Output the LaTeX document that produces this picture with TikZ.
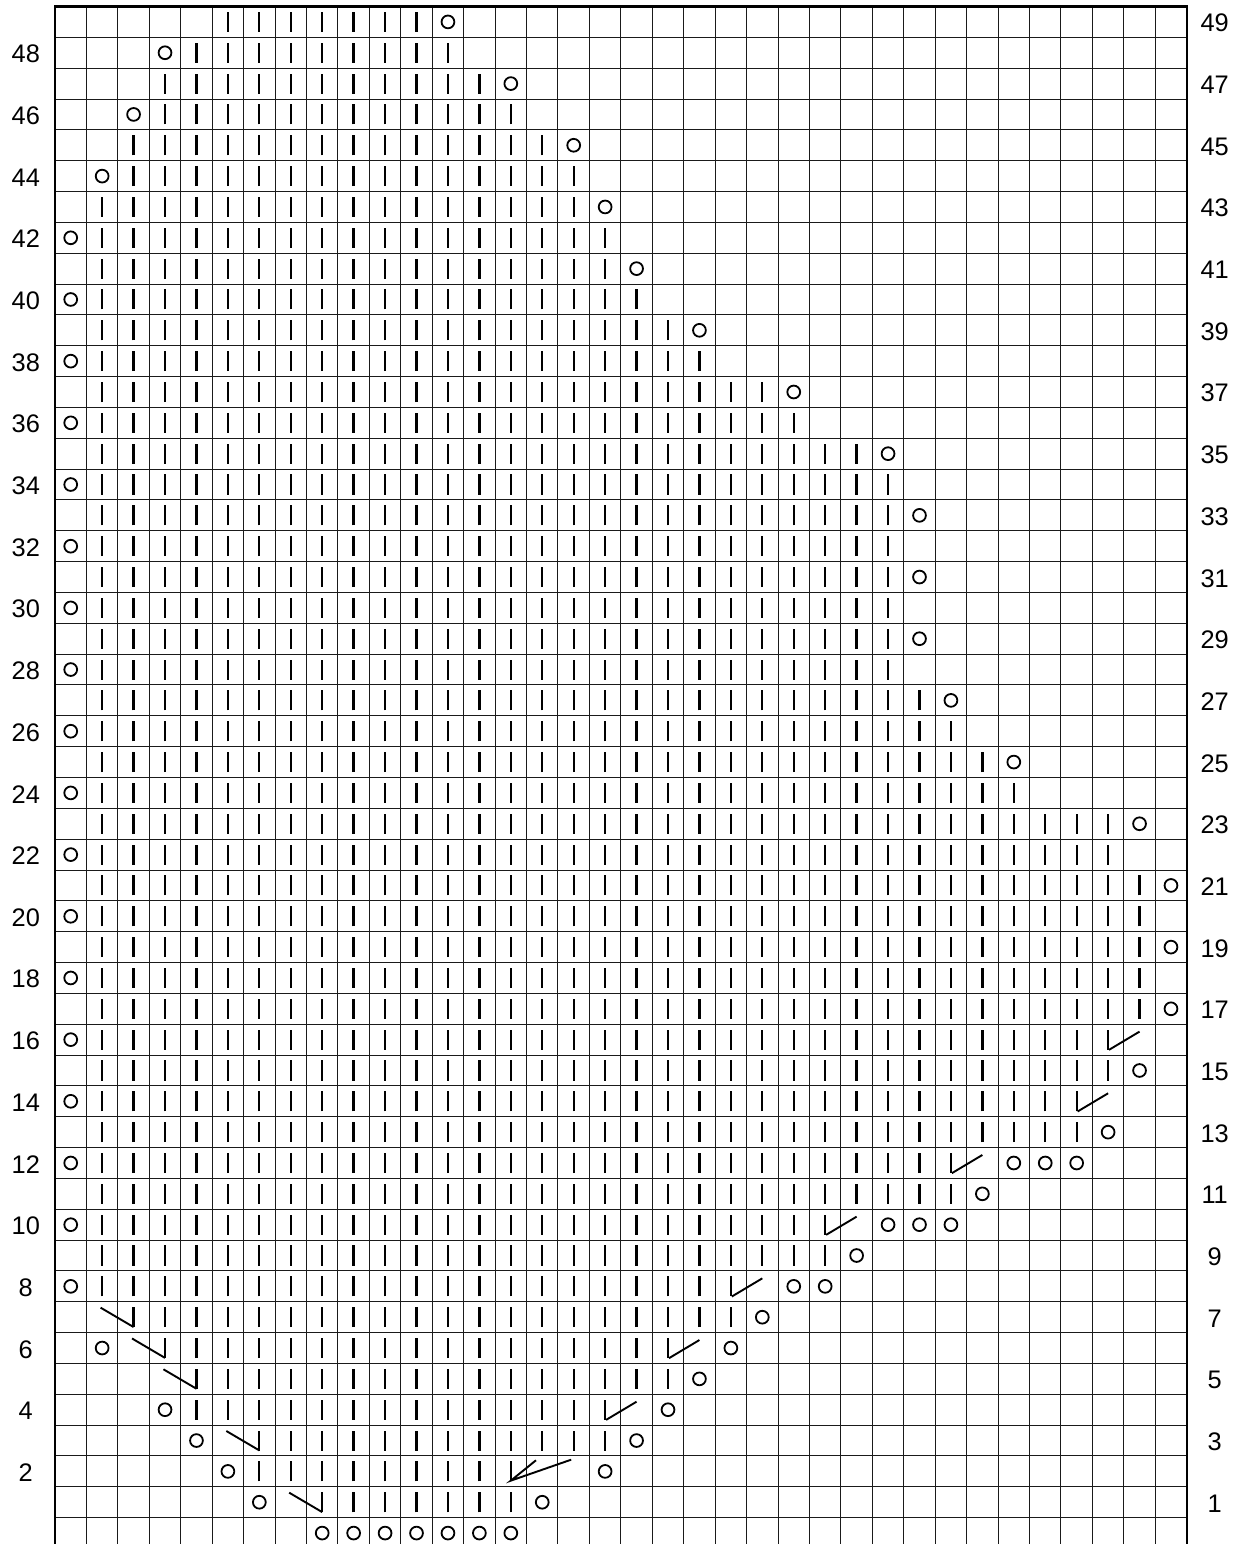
\documentclass[tikz,border=0pt]{standalone}
\usepackage{fontspec}
\setmainfont{Liberation Sans}
\definecolor{cgrid}{HTML}{1A1A1A}
\tikzset{
  every picture/.style={font=\fontsize{12.7}{14}\selectfont},
  gridline/.style={draw=cgrid, line width=0.5pt},
  frame/.style={draw=black, line width=1.2pt},
  knit/.style={draw=black, line width=1.15pt},
  yo/.style={draw=black, line width=0.9pt},
  dec/.style={draw=black, line width=0.95pt},
  rowno/.style={inner sep=0pt, anchor=center},
}
\begin{document}
\begin{tikzpicture}[x=15.718pt, y=15.42pt]
  \useasboundingbox (-1.7496,0.146) rectangle (37.664,50.211);
  % grid
  \foreach \i in {1,...,35} \draw[gridline] (\i,0) -- (\i,50);
  \foreach \j in {1,...,49} \draw[gridline] (0,\j) -- (36,\j);
  \draw[frame] (0,0) rectangle (36,50);
  % row numbers
  \foreach \r in {2,4,...,48} \node[rowno] (left\r) at (-0.93,\r+0.46) {\r};
  \foreach \r in {1,3,...,49} \node[rowno] (right\r) at (36.89,\r+0.46) {\r};
  % knit stitches: row/first/last
  \foreach \r/\a/\b in {1/9/15, 2/7/15, 3/7/18, 4/5/18, 5/5/20, 6/4/20, 7/3/22, 8/2/22,
      9/2/25, 10/2/25, 11/2/29, 12/2/29, 13/2/33, 14/2/33, 15/2/34, 16/2/34,
      17/2/35, 18/2/35, 19/2/35, 20/2/35, 21/2/35, 22/2/34, 23/2/34, 24/2/31,
      25/2/30, 26/2/29, 27/2/28, 28/2/27, 29/2/27, 30/2/27, 31/2/27, 32/2/27,
      33/2/27, 34/2/27, 35/2/26, 36/2/24, 37/2/23, 38/2/21, 39/2/20, 40/2/19,
      41/2/18, 42/2/18, 43/2/17, 44/3/17, 45/3/16, 46/4/15, 47/4/14, 48/5/13, 49/6/12}
    \foreach \c in {\a,...,\b} \draw[knit] (\c-0.5,\r+0.175) -- (\c-0.5,\r+0.825);
  % yarn overs
  \foreach \c in {9,...,15} \draw[yo] (\c-0.5,0.5) circle (3.2pt);
  \foreach \r in {8,10,...,42} \draw[yo] (0.5,\r+0.5) circle (3.2pt);
  \foreach \c/\r in {7/1, 16/1, 6/2, 18/2, 5/3, 19/3, 4/4, 20/4, 21/5, 2/6, 22/6, 23/7,
      24/8, 25/8, 26/9, 27/10, 28/10, 29/10, 30/11, 31/12, 32/12, 33/12, 34/13,
      35/15, 36/17, 36/19, 36/21, 35/23, 31/25, 29/27, 28/29, 28/31, 28/33, 27/35,
      24/37, 21/39, 19/41, 18/43, 2/44, 17/45, 3/46, 15/47, 4/48, 13/49}
    \draw[yo] (\c-0.5,\r+0.5) circle (3.2pt);
  % decreases
  \foreach \c/\r in {9/1, 7/3, 5/5, 4/6, 3/7}
    \draw[dec] (\c-1.55,\r+0.81) -- (\c-0.5,\r+0.18);
  \foreach \c/\r in {18/4, 20/6, 22/8, 25/10, 29/12, 33/14, 34/16}
    \draw[dec] (\c-0.47,\r+0.17) -- (\c+0.5,\r+0.76);
  \draw[dec] (15.3,2.86) -- (14.5,2.2) -- (16.42,2.88);
\end{tikzpicture}
\end{document}
